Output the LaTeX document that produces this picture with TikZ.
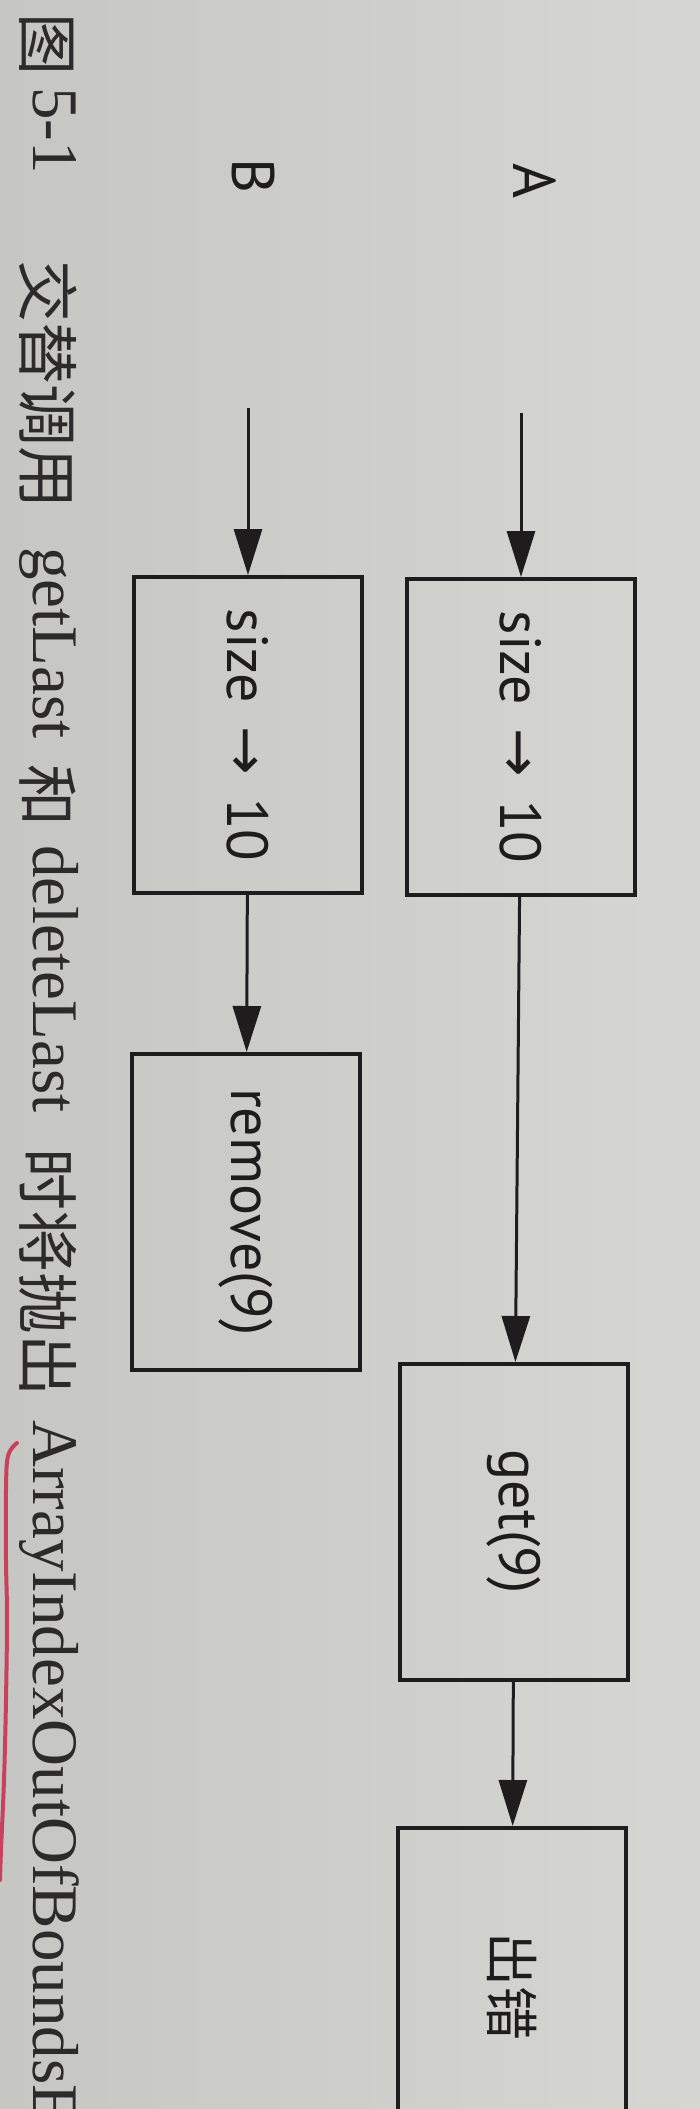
\documentclass[tikz,border=0pt]{standalone}
\usepackage{fontspec}
\setmainfont{Liberation Serif}
\newfontfamily\cjk{Noto Sans CJK SC}
\newfontfamily\flowfont{PT Sans}
\newfontfamily\arrowfont{DejaVu Sans}
\usetikzlibrary{arrows.meta}
\definecolor{paperl}{RGB}{198,198,194}
\definecolor{paperr}{RGB}{214,214,210}
\definecolor{ink}{RGB}{30,28,28}
\definecolor{capink}{RGB}{44,42,42}
\definecolor{penred}{RGB}{200,66,92}

\begin{document}
\begin{tikzpicture}[x=1pt,y=-1pt,
    box/.style={draw=ink,line width=4pt,minimum width=228pt,minimum height=316pt,
      inner sep=0pt,text=ink,font=\flowfont\fontsize{58}{60}\selectfont},
    lbl/.style={inner sep=0pt,text=ink,font=\flowfont\fontsize{60}{62}\selectfont},
    flow/.style={draw=ink,line width=3pt,-{Triangle[length=46pt,width=28pt]}},
    captxt/.style={rotate=-90,anchor=base west,inner sep=0pt,text=capink,
      font=\fontsize{65}{65}\selectfont},
    capcn/.style={captxt,font=\cjk\fontsize{62}{62}\selectfont},
    pen/.style={draw=penred,line width=4pt,line cap=round}]
    \useasboundingbox (0,0) rectangle (700,2109);
    \clip (0,0) rectangle (700,2109);
    \shade[left color=paperl,right color=paperr] (0,0) rectangle (700,2109);

    % Thread A:
    \node[lbl] (labA) at (535,181) {\rotatebox{-90}{A}};
    \coordinate (inA) at (521,413);
    \node[box] (sizeA) at (521,737) {\rotatebox{-90}{size\hspace{.4em}{\arrowfont →}\hspace{.4em}10}};
    \node[box] (getA) at (514,1522) {\rotatebox{-90}{get(9)}};
    \node[box] (errA) at (512,1986) {\rotatebox{-90}{\cjk\fontsize{54}{56}\selectfont 出错}};
    \draw[flow] (inA) -- (sizeA);
    \draw[flow] (sizeA) -- (getA);
    \draw[flow] (getA) -- (errA);

    % Thread B:
    \node[lbl] (labB) at (253,176) {\rotatebox{-90}{B}};
    \coordinate (inB) at (248,408);
    \node[box] (sizeB) at (248,735) {\rotatebox{-90}{size\hspace{.4em}{\arrowfont →}\hspace{.4em}10}};
    \node[box] (removeB) at (246,1212) {\rotatebox{-90}{remove(9)}};
    \draw[flow] (inB) -- (sizeB);
    \draw[flow] (sizeB) -- (removeB);

    % Caption along the left edge:
    \node[capcn] (capFig) at (24,13) {图};
    \node[captxt] (capNum) at (33,87) {5-1};
    \node[capcn] (capA) at (24,260) {交替调用};
    \node[captxt] (capGet) at (33,547) {getLast};
    \node[capcn] (capB) at (24,764) {和};
    \node[captxt] (capDel) at (33,845) {deleteLast};
    \node[capcn] (capC) at (24,1148) {时将抛出};
    \node[captxt] (capExc) at (33,1420) {ArrayIndexOutOfBoundsE};

    % Pen mark:
    \draw[pen] plot[smooth,tension=.6] coordinates {(17,1443) (8,1456) (6,1490) (6,1560)
      (7,1617) (6,1700) (4,1780) (1,1850) (0,1880)};
\end{tikzpicture}
\end{document}
